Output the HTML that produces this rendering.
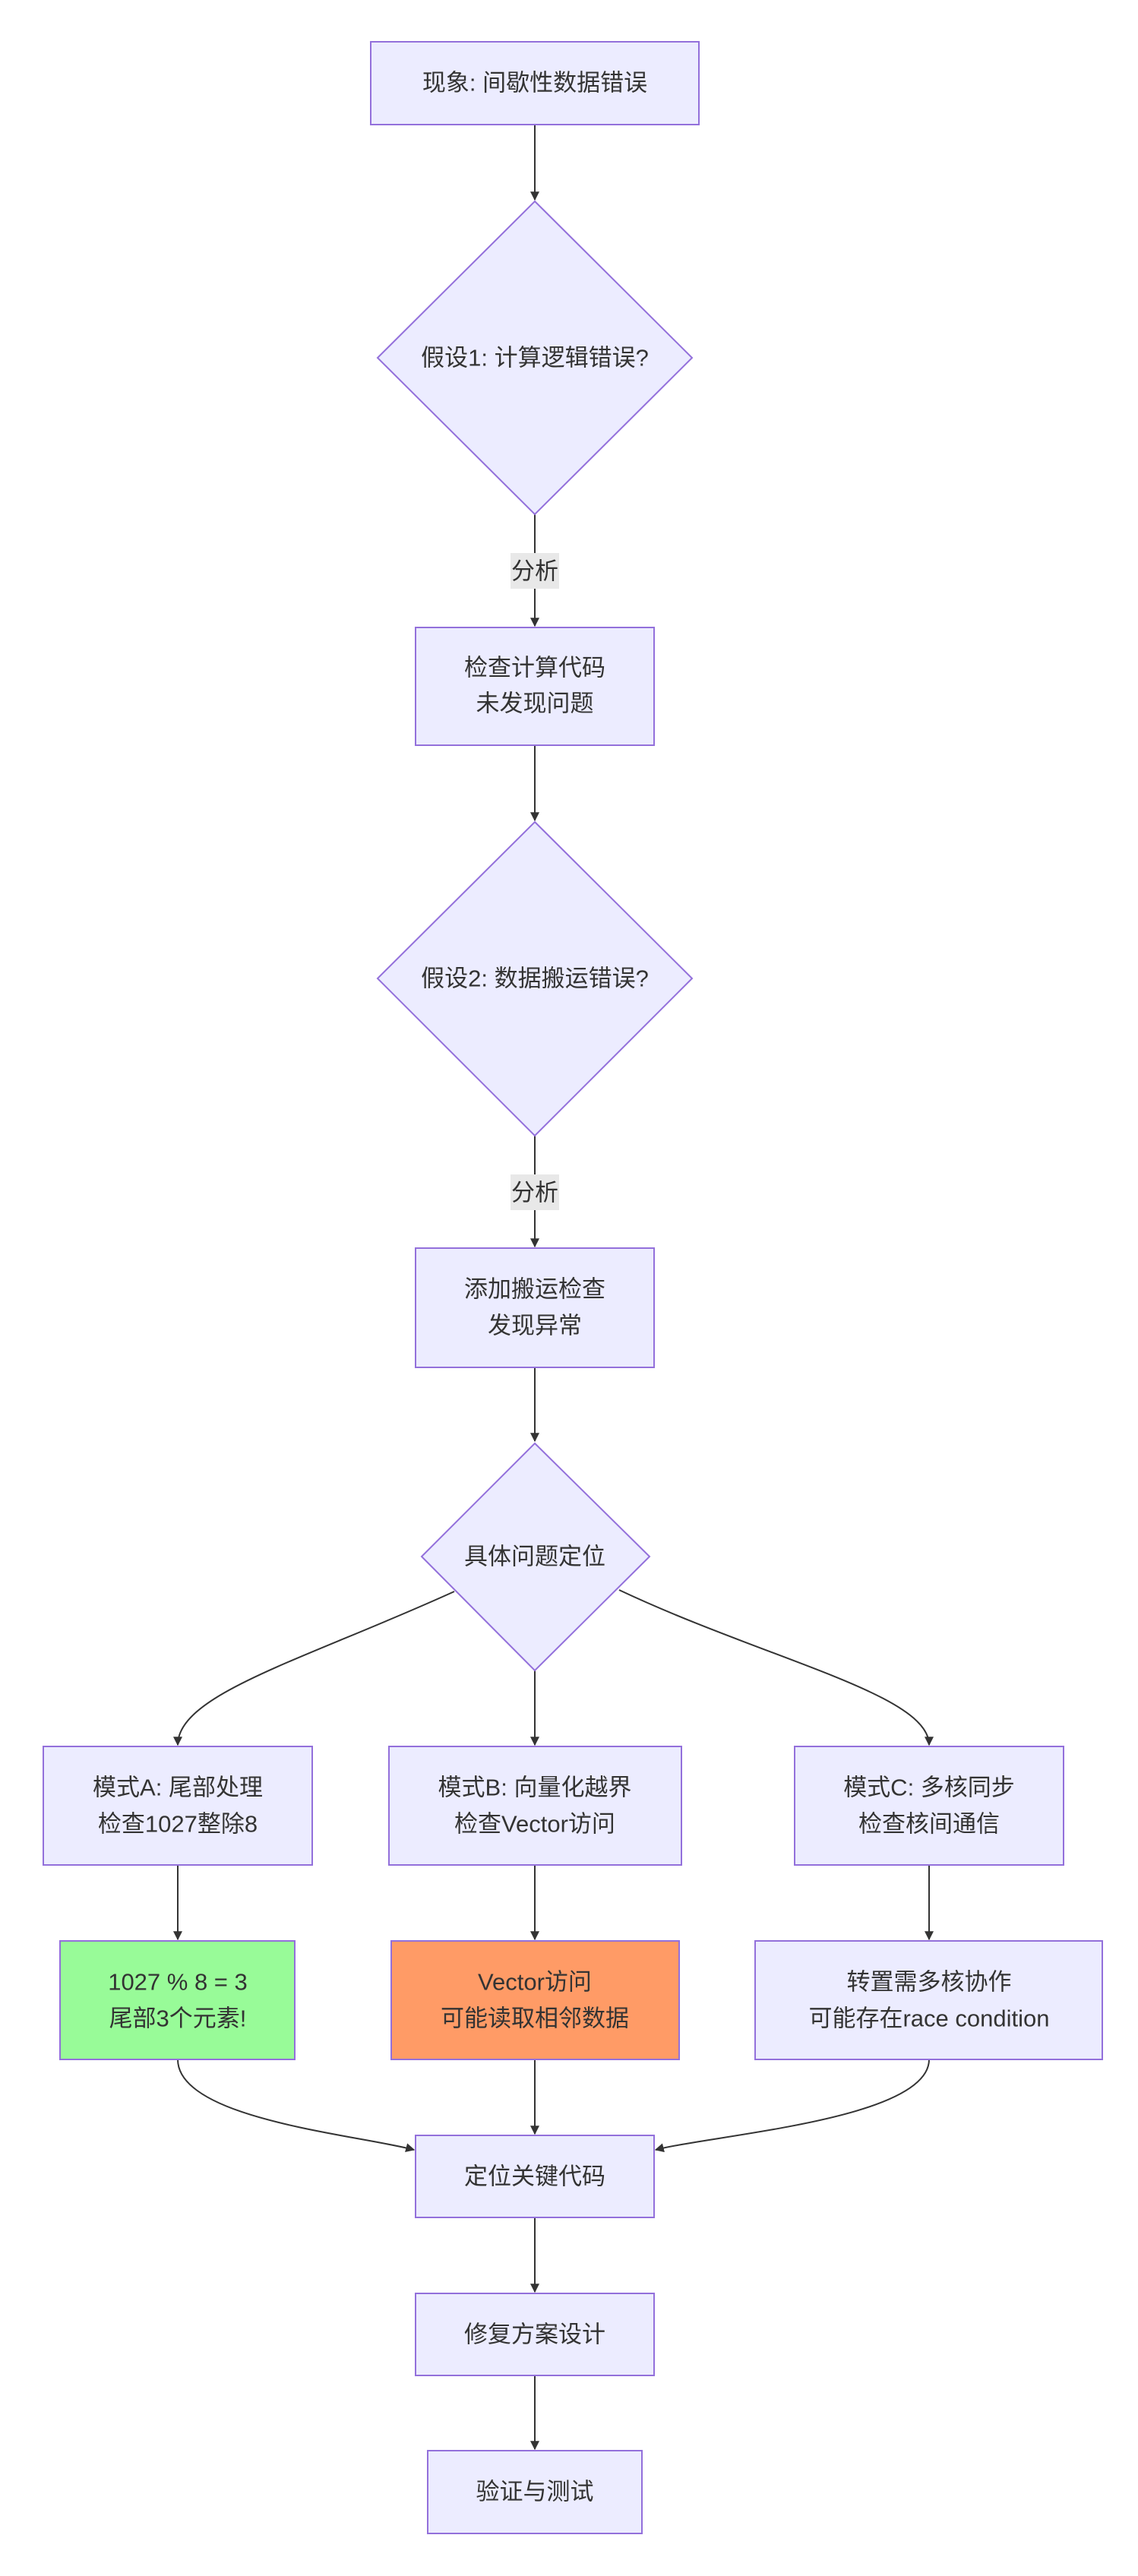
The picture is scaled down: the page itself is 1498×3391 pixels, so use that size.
<!DOCTYPE html>
<html><head><meta charset="utf-8"><style>
html,body{margin:0;padding:0;background:#fff;}
svg{display:block;}
text{font-family:"Liberation Sans","Noto Sans CJK SC",sans-serif;font-size:31px;fill:#333;text-anchor:middle;dominant-baseline:central;}
.n{fill:#ECECFF;stroke:#9370DB;stroke-width:2;}
.e{stroke:#333;stroke-width:2;fill:none;marker-end:url(#a);}
</style></head><body>
<svg width="1498" height="3391" viewBox="0 0 1498 3391" xmlns="http://www.w3.org/2000/svg">
<defs><marker id="a" viewBox="0 0 10 10" refX="9" refY="5" markerWidth="9" markerHeight="9" markerUnits="userSpaceOnUse" orient="auto"><path d="M0,0 L10,5 L0,10 z" fill="#333"/></marker>
<marker id="a2" viewBox="0 0 10 10" refX="9" refY="5" markerWidth="12" markerHeight="12" markerUnits="userSpaceOnUse" orient="auto"><path d="M0,0 L10,5 L0,10 z" fill="#333"/></marker></defs>
<style>.e{marker-end:url(#a2);}</style>

<!-- edges -->
<path class="e" d="M704,164 L704,263"/>
<path class="e" d="M704,677 L704,824"/>
<path class="e" d="M704,981 L704,1080"/>
<path class="e" d="M704,1495 L704,1641"/>
<path class="e" d="M704,1800 L704,1897"/>
<path class="e" d="M598,2095 C400,2185 234,2230 234,2297"/>
<path class="e" d="M704,2199 L704,2297"/>
<path class="e" d="M815,2093 C1010,2185 1223,2230 1223,2297"/>
<path class="e" d="M234,2455 L234,2553"/>
<path class="e" d="M704,2455 L704,2553"/>
<path class="e" d="M1223,2455 L1223,2553"/>
<path class="e" d="M234,2711 C234,2790 470,2810 545,2830"/>
<path class="e" d="M704,2711 L704,2809"/>
<path class="e" d="M1223,2711 C1223,2790 940,2810 863,2830"/>
<path class="e" d="M704,2919 L704,3017"/>
<path class="e" d="M704,3127 L704,3224"/>

<!-- edge labels -->
<rect x="672" y="728" width="64" height="47" fill="#e8e8e8"/><text x="704" y="752">分析</text>
<rect x="672" y="1546" width="64" height="47" fill="#e8e8e8"/><text x="704" y="1570">分析</text>

<!-- nodes -->
<rect class="n" x="488" y="55" width="432" height="109"/><text x="704" y="109">现象: 间歇性数据错误</text>
<polygon class="n" points="704,265 911,471 704,677 497,471"/><text x="704" y="471">假设1: 计算逻辑错误?</text>
<rect class="n" x="547" y="826" width="314" height="155"/><text x="704" y="879">检查计算代码</text><text x="704" y="926">未发现问题</text>
<polygon class="n" points="704,1082 911,1288 704,1495 497,1288"/><text x="704" y="1288">假设2: 数据搬运错误?</text>
<rect class="n" x="547" y="1643" width="314" height="157"/><text x="704" y="1697">添加搬运检查</text><text x="704" y="1745">发现异常</text>
<polygon class="n" points="704,1900 855,2049 704,2199 555,2049"/><text x="704" y="2049">具体问题定位</text>

<rect class="n" x="57" y="2299" width="354" height="156"/><text x="234" y="2353">模式A: 尾部处理</text><text x="234" y="2401">检查1027整除8</text>
<rect class="n" x="512" y="2299" width="385" height="156"/><text x="704" y="2353">模式B: 向量化越界</text><text x="704" y="2401">检查Vector访问</text>
<rect class="n" x="1046" y="2299" width="354" height="156"/><text x="1223" y="2353">模式C: 多核同步</text><text x="1223" y="2401">检查核间通信</text>

<rect x="79" y="2555" width="309" height="156" fill="#98FB98" stroke="#9370DB" stroke-width="2"/><text x="234" y="2609">1027 % 8 = 3</text><text x="234" y="2657">尾部3个元素!</text>
<rect x="515" y="2555" width="379" height="156" fill="#FF9B66" stroke="#9370DB" stroke-width="2"/><text x="704" y="2609">Vector访问</text><text x="704" y="2657">可能读取相邻数据</text>
<rect class="n" x="994" y="2555" width="457" height="156"/><text x="1223" y="2609">转置需多核协作</text><text x="1223" y="2657">可能存在race condition</text>

<rect class="n" x="547" y="2811" width="314" height="108"/><text x="704" y="2865">定位关键代码</text>
<rect class="n" x="547" y="3019" width="314" height="108"/><text x="704" y="3073">修复方案设计</text>
<rect class="n" x="563" y="3226" width="282" height="109"/><text x="704" y="3280">验证与测试</text>
</svg>
</body></html>
